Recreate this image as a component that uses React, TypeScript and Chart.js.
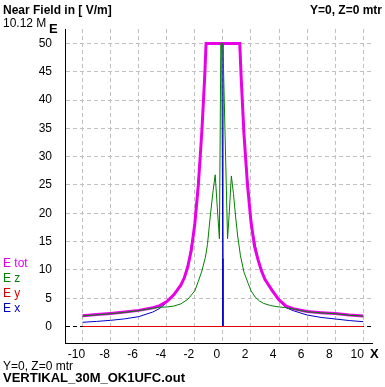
import React, { useEffect, useRef } from "react";
import { Chart, registerables } from "chart.js";

Chart.register(...registerables);

// ---- data ----
const xTicks = [-10, -8, -6, -4, -2, 0, 2, 4, 6, 8, 10];
const yTicks = [0, 5, 10, 15, 20, 25, 30, 35, 40, 45, 50];

const totX = [-10, -9, -8, -7, -6, -5, -4.5, -4, -3.5, -3, -2.75, -2.5, -2.25, -2, -1.75, -1.5, -1.3, -1.2, 1.2, 1.3, 1.5, 1.75, 2, 2.25, 2.5, 2.75, 3, 3.5, 4, 4.5, 5, 6, 7, 8, 9, 10];
const totY = [1.9, 2.1, 2.3, 2.55, 2.85, 3.3, 3.7, 4.4, 5.6, 7.3, 8.6, 10.6, 13.5, 18.2, 25, 34.5, 44, 50, 50, 44, 34, 25, 18.5, 14.2, 11.8, 9.8, 8.3, 6.4, 4.7, 3.6, 3.15, 2.65, 2.45, 2.3, 2.05, 1.86];

const ezX = [-10, -9, -8, -7, -6, -5, -4.5, -4, -3.5, -3, -2.5, -2, -1.75, -1.5, -1.25, -1.1, -0.9, -0.7, -0.55, -0.4, -0.25, -0.15, 0, 0.33, 0.45, 0.6, 0.75, 0.9, 1.05, 1.25, 1.5, 1.8, 2, 2.3, 2.6, 2.9, 3.4, 3.85, 4.4, 5, 6, 7, 8, 9, 10];
const ezY = [1.85, 2.05, 2.25, 2.5, 2.8, 3.2, 3.4, 3.45, 3.6, 4.0, 4.8, 6.3, 8.0, 9.8, 12.2, 14.5, 19.5, 24, 26.8, 21, 15.5, 50, 50, 15.5, 20, 26.6, 23.5, 19.5, 16, 12.5, 9.6, 7.6, 6.3, 5.2, 4.5, 4.08, 3.7, 3.5, 3.35, 3.1, 2.6, 2.4, 2.25, 2.0, 1.82];

const eyX = [-10, 10];
const eyY = [0, 0];

const exX = [-10, -9, -8, -7, -6, -5, -4.5, -4.2, -4, -3.5, -3, -2.5, -2, -1.5, -1.2, -0.08, -0.01, 0, 0.01, 0.01, 1.2, 1.5, 2, 2.5, 3, 3.5, 4, 4.44, 5, 6, 7, 8, 9, 10];
const exY = [0.74, 0.9, 1.09, 1.35, 1.74, 2.55, 3.2, 3.8, 4.3, 5.6, 7.2, 10.6, 18.2, 34.5, 50, 50, 12, 0, 42, 50, 50, 34, 18.5, 11.8, 8.3, 6.4, 4.6, 3.4, 2.8, 2.03, 1.6, 1.33, 1.05, 0.85];

const seriesNames = ["E tot", "E z", "E y", "E x"];
const seriesColors = ["#e800e8", "#008000", "#e00000", "#0000c8"];

const titleText = "Near Field in [ V/m]";
const posText = "Y=0, Z=0 mtr";
const freqText = "10.12 M";
const fileText = "VERTIKAL_30M_OK1UFC.out";

const pts = (xs: number[], ys: number[]) => xs.map((x, i) => ({ x, y: ys[i] }));

const FONT = "'Liberation Sans', Arial, sans-serif";

const textPlugin = {
  id: "texts",
  afterDraw(chart: any) {
    const ctx = chart.ctx as CanvasRenderingContext2D;
    ctx.save();
    ctx.textBaseline = "alphabetic";
    ctx.fillStyle = "#000";
    ctx.font = `bold 12px ${FONT}`;
    ctx.textAlign = "left";
    ctx.fillText(titleText, 3, 14);
    ctx.textAlign = "right";
    ctx.fillText(posText, 382, 14);
    ctx.textAlign = "left";
    ctx.font = `12px ${FONT}`;
    ctx.fillText(freqText, 3, 27);
    ctx.font = `bold 13px ${FONT}`;
    ctx.fillText("E", 49, 33);
    ctx.fillText("X", 370, 358);
    ctx.font = `12px ${FONT}`;
    const legendBase = [267, 282, 297, 312];
    seriesNames.forEach((n, i) => {
      ctx.fillStyle = seriesColors[i];
      ctx.fillText(n, 3, legendBase[i]);
    });
    ctx.fillStyle = "#000";
    ctx.fillText(posText, 3, 370);
    ctx.font = `bold 13px ${FONT}`;
    ctx.fillText(fileText, 3, 382);
    ctx.restore();
  },
};

export default function App() {
  const ref = useRef<HTMLCanvasElement | null>(null);
  useEffect(() => {
    if (!ref.current) return;
    const chart = new Chart(ref.current, {
      type: "line",
      data: {
        datasets: [
          { label: seriesNames[0], data: pts(totX, totY), borderColor: seriesColors[0], borderWidth: 3, pointRadius: 0, order: 3 },
          { label: seriesNames[1], data: pts(ezX, ezY), borderColor: seriesColors[1], borderWidth: 1, pointRadius: 0, order: 2 },
          { label: seriesNames[2], data: pts(eyX, eyY), borderColor: seriesColors[2], borderWidth: 1, pointRadius: 0, order: 1 },
          { label: seriesNames[3], data: pts(exX, exY), borderColor: seriesColors[3], borderWidth: 1, pointRadius: 0, order: 4 },
        ],
      },
      options: {
        animation: false,
        responsive: false,
        parsing: false as any,
        layout: { padding: { left: 0, right: 13, top: 29, bottom: 0 } },
        plugins: { legend: { display: false }, tooltip: { enabled: false }, title: { display: false } },
        elements: { line: { tension: 0 } },
        scales: {
          x: {
            type: "linear",
            min: -11.25,
            max: 10.62,
            afterBuildTicks: (s: any) => { s.ticks = xTicks.map((v) => ({ value: v })); },
            afterFit: (s: any) => { s.height = 44; },
            ticks: { font: { family: FONT, size: 12 }, color: "#000", padding: 4, labelOffset: -6, maxRotation: 0, autoSkip: false },
            grid: { color: "#c0c0c0", lineWidth: 1, drawTicks: false },
            border: { display: true, color: "#000", width: 1, dash: [4, 3] },
          },
          y: {
            type: "linear",
            min: -2.915,
            max: 52.56,
            afterBuildTicks: (s: any) => { s.ticks = yTicks.map((v) => ({ value: v })); },
            afterFit: (s: any) => { s.width = 65; },
            ticks: { font: { family: FONT, size: 12 }, color: "#000", padding: 13, autoSkip: false },
            grid: { color: (c: any) => (c.tick && c.tick.value === 0 ? "#000" : "#c0c0c0"), lineWidth: 1, drawTicks: false },
            border: { display: true, color: "#000", width: 1, dash: [4, 3] },
          },
        },
      },
      plugins: [textPlugin],
    });
    return () => chart.destroy();
  }, []);
  return (
    <div style={{ position: "fixed", left: 0, top: 0, width: 385, height: 387, background: "#fff" }}>
      <canvas ref={ref} width={385} height={387} style={{ display: "block" }} />
    </div>
  );
}
